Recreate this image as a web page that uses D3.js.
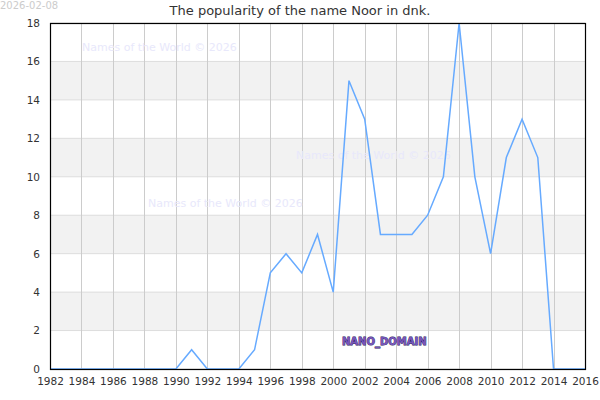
<!DOCTYPE html>
<html>
<head>
<meta charset="utf-8">
<script src="https://cdn.jsdelivr.net/npm/d3@7"></script>
<style>
  body { margin: 0; background: #fff; }
  svg { display: block; font-family: "DejaVu Sans", sans-serif; }
</style>
</head>
<body>
<svg id="chart" width="600" height="400"></svg>
<script>
// data
var years = [1982,1983,1984,1985,1986,1987,1988,1989,1990,1991,1992,1993,1994,1995,1996,1997,1998,1999,
             2000,2001,2002,2003,2004,2005,2006,2007,2008,2009,2010,2011,2012,2013,2014,2015,2016]
var counts = [0,0,0,0,0,0,0,0,0,1,0,0,0,1,5,6,5,7,
              4,15,13,7,7,7,8,10,18,10,6,11,13,11,0,0,0]
var yTicks = [0,2,4,6,8,10,12,14,16,18]
var xTicks = d3.range(1982, 2017, 2)
var bands = [[2,4],[6,8],[10,12],[14,16]]
var watermarks = [[82,48],[148,204],[296,156]]

var m = {left: 50, right: 585, top: 23, bottom: 369}
var svg = d3.select("#chart")

var x = d3.scaleLinear().domain([1982, 2016]).range([m.left, m.right])
var y = d3.scaleLinear().domain([0, 18]).range([m.bottom, m.top])

// shaded bands
svg.append("g").selectAll("rect").data(bands).join("rect")
    .attr("x", m.left).attr("width", m.right - m.left)
    .attr("y", d => y(d[1])).attr("height", d => y(d[0]) - y(d[1]))
    .style("fill", "#f2f2f2")

// horizontal grid
svg.append("g").selectAll("line").data(yTicks).join("line")
    .attr("x1", m.left).attr("x2", m.right)
    .attr("y1", d => y(d)).attr("y2", d => y(d))
    .style("stroke", "#dddddd").style("stroke-width", 1)

// vertical grid
svg.append("g").selectAll("line").data(xTicks).join("line")
    .attr("x1", d => Math.round(x(d)) + 0.5).attr("x2", d => Math.round(x(d)) + 0.5)
    .attr("y1", m.top).attr("y2", m.bottom)
    .style("stroke", "#cccccc").style("stroke-width", 1)

// watermarks
svg.append("g").selectAll("text").data(watermarks).join("text")
    .attr("x", d => d[0]).attr("y", d => d[1])
    .attr("dominant-baseline", "middle")
    .style("font-size", "11px").style("fill", "#e8e8fb")
    .text("Names of the World © 2026")

// line
var line = d3.line().x((d, i) => x(years[i])).y(d => y(d))
svg.append("path").datum(counts)
    .attr("d", line)
    .style("fill", "none").style("stroke", "#66aaff").style("stroke-width", 1.5)

// frame
svg.append("rect")
    .attr("x", m.left + 0.5).attr("y", m.top + 0.5)
    .attr("width", m.right - m.left).attr("height", m.bottom - m.top)
    .style("fill", "none").style("stroke", "#000").style("stroke-width", 1.2)

// axes
var yAxis = svg.append("g").attr("transform", "translate(" + m.left + ",0)")
    .call(d3.axisLeft(y).tickValues(yTicks).tickSize(0).tickPadding(10))
var xAxis = svg.append("g").attr("transform", "translate(0," + m.bottom + ")")
    .call(d3.axisBottom(x).tickValues(xTicks).tickSize(0).tickPadding(9).tickFormat(d3.format("d")))
svg.selectAll(".domain").remove()
svg.selectAll(".tick text").style("font-size", "10.5px").style("fill", "#333")
    .style("font-family", "DejaVu Sans, sans-serif")

// title and date
svg.append("text").attr("x", 300).attr("y", 15).attr("text-anchor", "middle")
    .style("font-size", "13px").style("fill", "#333")
    .text("The popularity of the name Noor in dnk.")
svg.append("text").attr("x", 0).attr("y", 9)
    .style("font-size", "10px").style("fill", "#cccccc")
    .text("2026-02-08")

// domain stamp
svg.append("text").attr("x", 342).attr("y", 345)
    .style("font-size", "10px").style("font-weight", "bold")
    .style("fill", "#7755bb").style("stroke", "#221155").style("stroke-width", 0.8)
    .style("paint-order", "stroke")
    .text("NANO_DOMAIN")
</script>
</body>
</html>
